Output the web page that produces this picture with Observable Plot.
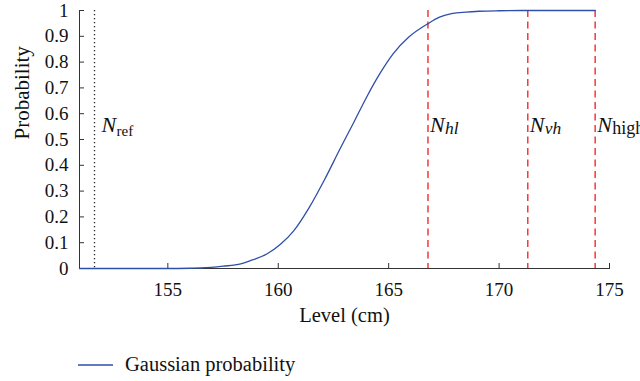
<!DOCTYPE html>
<html>
<head>
<meta charset="utf-8">
<script src="https://cdn.jsdelivr.net/npm/d3@7"></script>
<script src="https://cdn.jsdelivr.net/npm/@observablehq/plot@0.6"></script>
<style>
  html, body { margin: 0; padding: 0; background: white; overflow: hidden; }
  #chart { position: relative; width: 640px; height: 381px; }
  #legend { position: absolute; left: 78px; top: 353px; display: flex; align-items: center;
            font-family: "Liberation Serif", serif; font-size: 20.5px; color: #111; }
  #legend svg { margin-right: 12px; }
</style>
</head>
<body>
<div id="chart"><div id="legend"></div></div>
<script>
// Cumulative Gaussian probability of exceeding a given level
const levels = [151, 153, 155, 156, 156.5, 157.5, 158.3, 158.7, 159.5, 160.1, 160.7, 161.4, 162.1,
                162.8, 163.4, 164, 164.6, 165.2, 165.9, 166.8, 167.3, 167.9, 168.5, 169.1, 170, 171, 172, 174.35];
const probabilities = [0, 0, 0, 0.001, 0.002, 0.009, 0.018, 0.029, 0.057, 0.094, 0.146, 0.236, 0.345,
                       0.464, 0.563, 0.664, 0.755, 0.832, 0.896, 0.95, 0.974, 0.989, 0.994, 0.997, 0.999, 1, 1, 1];

// Reference level and the three threshold levels
const refLevel = [151.68];
const thresholdLevels = [166.78, 171.3, 174.35];
const thresholdNames = ["hl", "vh", "high"];
const thresholdItalic = [true, true, false];

const xTicks = [155, 160, 165, 170, 175];
const yTicks = [0, 0.1, 0.2, 0.3, 0.4, 0.5, 0.6, 0.7, 0.8, 0.9, 1];

const curve = levels.map((level, i) => ({level, probability: probabilities[i]}));
const thresholds = thresholdLevels.map((level, i) => ({level, name: thresholdNames[i], italic: thresholdItalic[i]}));

const blue = "#2f4fa8";
const red = "#f52a2a";
const axisColor = "#333";

const W = 640, H = 340, mL = 79, mR = 31, mT = 10, mB = 72;
const innerW = W - mL - mR, innerH = H - mT - mB;
const tickLen = 5;

const chart = Plot.plot({
  width: W,
  height: H,
  marginLeft: mL,
  marginRight: mR,
  marginTop: mT,
  marginBottom: mB,
  style: {fontFamily: "Liberation Serif, serif", fontSize: "19px", color: "#111", background: "white"},
  x: {domain: [151, 175]},
  y: {domain: [0, 1]},
  marks: [
    Plot.axisX(xTicks, {tickSize: 0, tickPadding: 14, label: null, fontSize: 19}),
    Plot.axisY(yTicks, {tickSize: 0, tickPadding: 11, label: null, fontSize: 19, tickFormat: d3.format("~g")}),
    // inward-pointing tick marks
    Plot.tickX(xTicks, {x: d => d, insetTop: innerH - tickLen, stroke: axisColor}),
    Plot.tickY(yTicks, {y: d => d, insetRight: innerW - tickLen, stroke: axisColor}),
    Plot.frame({anchor: "left", stroke: axisColor}),
    Plot.frame({anchor: "bottom", stroke: axisColor}),
    // axis titles
    Plot.text(["Level (cm)"], {text: d => d, frameAnchor: "bottom", dy: 53, fontSize: 20.5}),
    Plot.text(["Probability"], {text: d => d, frameAnchor: "left", dx: -57, rotate: -90, fontSize: 21}),
    // reference level (dotted) and threshold levels (dashed)
    Plot.ruleX(refLevel, {x: d => d, stroke: "#222", strokeWidth: 1.3, strokeDasharray: "1.2,2.8"}),
    Plot.ruleX(thresholds, {x: "level", stroke: red, strokeWidth: 1.4, strokeDasharray: "7,4.5"}),
    // probability curve
    Plot.line(curve, {x: "level", y: "probability", stroke: blue, strokeWidth: 1.3, curve: "monotone-x"}),
    // N labels
    Plot.text(refLevel, {x: d => d, text: () => "N", frameAnchor: "top", dy: 121, dx: 7,
      textAnchor: "start", lineAnchor: "bottom", fontStyle: "italic", fontSize: 22}),
    Plot.text(refLevel, {x: d => d, text: () => "ref", frameAnchor: "top", dy: 125, dx: 22,
      textAnchor: "start", lineAnchor: "bottom", fontSize: 15}),
    Plot.text(thresholds, {x: "level", text: () => "N", frameAnchor: "top", dy: 121, dx: 2,
      textAnchor: "start", lineAnchor: "bottom", fontStyle: "italic", fontSize: 22}),
    Plot.text(thresholds.filter(d => d.italic), {x: "level", text: "name", frameAnchor: "top", dy: 123, dx: 17,
      textAnchor: "start", lineAnchor: "bottom", fontStyle: "italic", fontSize: 17.5}),
    Plot.text(thresholds.filter(d => !d.italic), {x: "level", text: "name", frameAnchor: "top", dy: 123, dx: 17,
      textAnchor: "start", lineAnchor: "bottom", fontSize: 18})
  ]
});
chart.style.overflow = "visible";
document.getElementById("chart").prepend(chart);

// legend below the plot
const legend = d3.select("#legend");
const sw = legend.append("svg").attr("width", 35).attr("height", 10);
sw.append("line").attr("x1", 0).attr("x2", 35).attr("y1", 5).attr("y2", 5)
  .attr("stroke", blue).attr("stroke-width", 1.3);
legend.append("span").text("Gaussian probability");
</script>
</body>
</html>
